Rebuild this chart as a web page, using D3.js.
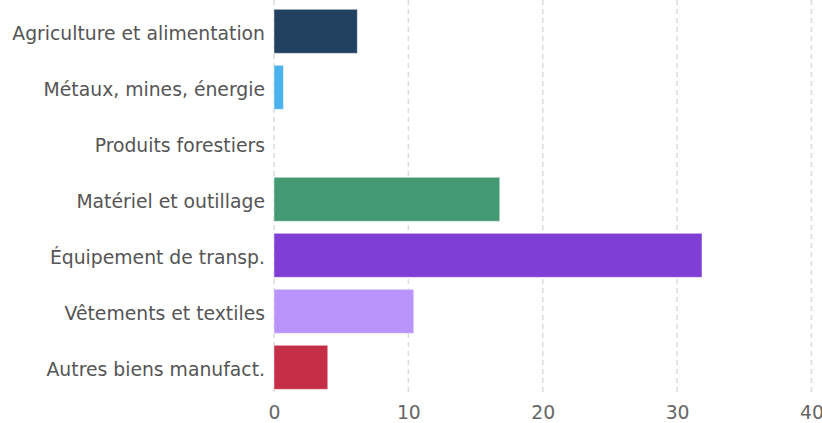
<!DOCTYPE html>
<html>
<head>
<meta charset="utf-8">
<script src="https://cdn.jsdelivr.net/npm/d3@7"></script>
<style>
  body { margin: 0; background: #fff; }
  text { font-family: "DejaVu Sans", sans-serif; }
</style>
</head>
<body>
<script>

    var categories = ["Agriculture et alimentation", "Métaux, mines, énergie", "Produits forestiers",
        "Matériel et outillage", "Équipement de transp.", "Vêtements et textiles", "Autres biens manufact."];
    var values = [6.2, 0.7, 0, 16.8, 31.85, 10.4, 4.0];
    var colors = ["#22405f", "#4ab3ee", "#7a7a7a", "#449a72", "#7f3fd6", "#b995fb", "#c42e47"];
    var ticks = [0, 10, 20, 30, 40];

    var width = 822, height = 423;
    var plotLeft = 274, plotRight = 811.5, plotTop = 3.3, plotBottom = 395.3;

    var svg = d3.select("body").append("svg")
        .attr("width", width)
        .attr("height", height);

    var x = d3.scaleLinear().domain([0, 40]).range([plotLeft, plotRight]);
    var y = d3.scaleBand().domain(categories).range([plotTop, plotBottom]).paddingInner(0.214).paddingOuter(0.107);

    // grid
    svg.selectAll(".grid")
        .data(ticks)
        .enter().append("line")
        .attr("x1", function(d) { return x(d); })
        .attr("x2", function(d) { return x(d); })
        .attr("y1", 0)
        .attr("y2", plotBottom)
        .attr("stroke", "#dcdcdc")
        .attr("stroke-width", 1.5)
        .attr("stroke-dasharray", "5,4");

    svg.selectAll(".bar")
        .data(values)
        .enter().append("rect")
        .attr("x", x(0))
        .attr("y", function(d, i) { return y(categories[i]); })
        .attr("width", function(d) { return Math.max(0, x(d) - x(0)); })
        .attr("height", y.bandwidth())
        .attr("fill", function(d, i) { return colors[i]; })
        .attr("stroke", "rgba(255,255,255,0.45)")
        .attr("stroke-width", 1)
        .style("display", function(d) { return d > 0 ? null : "none"; });

    var xAxis = svg.append("g")
        .attr("transform", "translate(0," + plotBottom + ")")
        .call(d3.axisBottom(x).tickValues(ticks).tickSize(0).tickPadding(10.5));
    xAxis.select(".domain").remove();
    xAxis.selectAll("text")
        .attr("fill", "#666")
        .style("font-size", "18.8px");

    var yAxis = svg.append("g")
        .attr("transform", "translate(" + plotLeft + ",0)")
        .call(d3.axisLeft(y).tickSize(0).tickPadding(9));
    yAxis.select(".domain").remove();
    yAxis.selectAll("text")
        .attr("fill", "#555")
        .attr("dy", "0.48em")
        .style("font-size", "18.8px");

</script>
</body>
</html>
